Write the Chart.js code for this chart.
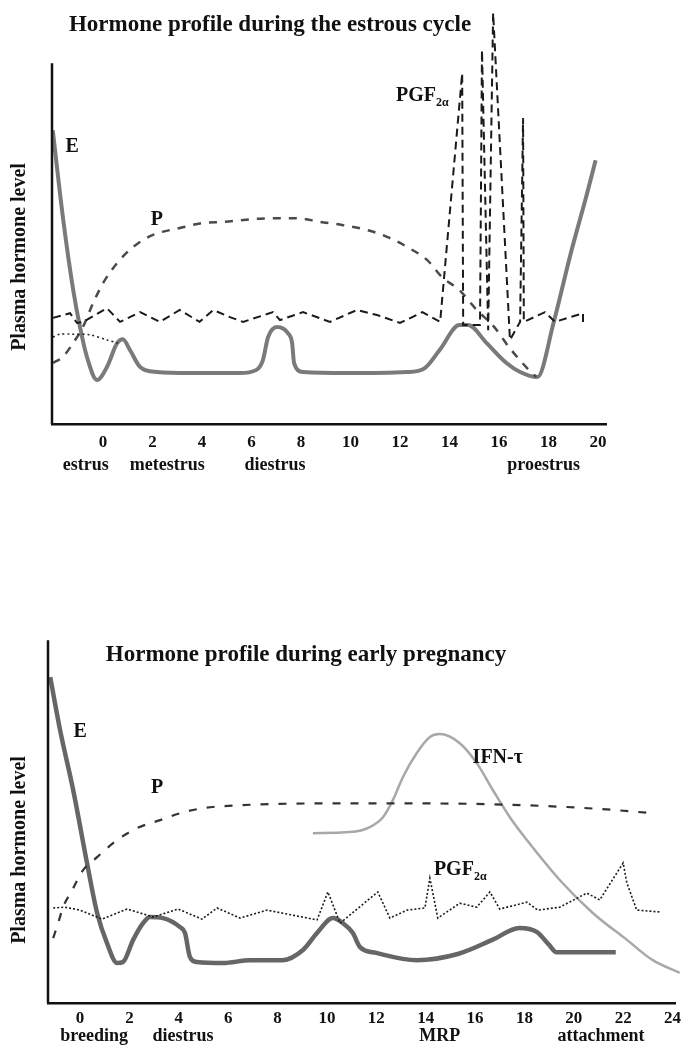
<!DOCTYPE html>
<html>
<head>
<meta charset="utf-8">
<script src="https://cdn.jsdelivr.net/npm/chart.js@4.4.1/dist/chart.umd.min.js"></script>
<style>
  html, body { margin: 0; padding: 0; background: #fff; }
  body { width: 683px; height: 1050px; position: relative; overflow: hidden; }
  canvas { position: absolute; left: 0; }
  #cycleChart { top: 0; }
  #pregChart { top: 560px; }
</style>
</head>
<body>
<canvas id="cycleChart" width="683" height="490"></canvas>
<canvas id="pregChart" width="683" height="490"></canvas>
<script>
// ---- estrous cycle panel ----
const cycleTicks = [0, 2, 4, 6, 8, 10, 12, 14, 16, 18, 20];
const cyclePhaseNames = ['estrus', 'metestrus', 'diestrus', 'proestrus'];
const cyclePhaseDays = [-0.7, 2.6, 6.95, 17.8];

const cycleEDays = [-2.03, -1.62, -1.2, -0.93, -0.65, -0.24, 0.16, 0.57, 0.8, 1.09, 1.5, 2.18, 3.5, 5.5, 6.2, 6.46, 6.67, 7.03, 7.47, 7.64, 7.72, 8.08, 9.86, 12.28, 13.0, 13.6, 14.4, 14.75, 15.5, 16.3, 16.85, 17.55, 18.2, 18.9, 19.56, 19.9];
const cycleELevel = [81.4, 57.3, 37, 26.9, 18.6, 12.2, 15.8, 22.4, 23.5, 20.5, 15.8, 14.4, 14.1, 14.1, 15, 17.7, 24.1, 26.9, 25.2, 22.4, 16.9, 14.4, 14.1, 14.4, 15.5, 20.5, 27.4, 27.4, 22.4, 16.9, 14.4, 13, 28, 47.4, 64, 73.1];

const cyclePDays = [-2.02, -1.62, -1.21, -0.81, -0.4, 0, 0.57, 1.21, 2.02, 3.1, 4.04, 4.85, 6.75, 7.84, 8.77, 9.7, 10.7, 11.5, 12.3, 13.1, 13.7, 14.4, 15.1, 15.8, 16.4, 17.2, 17.5];
const cyclePLevel = [16.9, 18.6, 22.4, 26.9, 33.5, 39, 44.6, 49, 52.4, 54.3, 55.7, 56, 57, 57, 56, 55.1, 53.7, 51.8, 49, 45.4, 40.7, 37.1, 31.6, 26.9, 21.3, 15, 13];

const cyclePgfDays = [-2.02, -1.33, -1.05, -0.8, 0.16, 0.69, 1.5, 2.3, 3.1, 3.9, 4.45, 5.13, 5.66, 6.87, 7.15, 8.08, 9.17, 10.26, 11.07, 12, 12.9, 13.62, 14.51, 14.55, 15.23, 15.31, 15.56, 15.76, 16.44, 16.85, 16.97, 17.0, 17.86, 18.26, 19.39, 19.39];
const cyclePgfLevel = [29.4, 30.7, 28, 28.3, 32.1, 28.3, 31, 28.3, 31.6, 28.3, 31.6, 29.6, 28.3, 31, 28.8, 31, 28.3, 31.6, 30.2, 28, 31, 28.3, 97.2, 27.4, 27.4, 103.6, 26, 113.9, 23.3, 28.3, 84.8, 28.3, 31, 28.3, 30.7, 27.2];

const cycleDotDays = [-2.02, -1.74, -1.33, -0.53, 0.16, 0.6];
const cycleDotLevel = [24.1, 24.9, 24.9, 24.7, 23.3, 22.4];

// ---- early pregnancy panel ----
const pregTicks = [0, 2, 4, 6, 8, 10, 12, 14, 16, 18, 20, 22, 24];
const pregPhaseNames = ['breeding', 'diestrus', 'MRP', 'attachment'];
const pregPhaseDays = [0.57, 4.17, 14.57, 21.1];

const pregEDays = [-1.21, -0.81, -0.28, 0.28, 0.69, 1.09, 1.5, 1.74, 2.15, 2.55, 2.83, 3.36, 4.05, 4.25, 4.45, 4.74, 5.79, 6.88, 8.2, 9.03, 9.6, 10.24, 10.65, 11.05, 11.34, 12.0, 13.64, 15.3, 16.7, 17.8, 18.5, 19.0, 19.3, 21.7];
const pregELevel = [89.8, 75.2, 58.7, 38.6, 24.8, 16.5, 11, 11.3, 17.4, 22, 23.7, 23.4, 20.9, 19.3, 12.7, 11.3, 11, 11.8, 11.8, 14.6, 19.3, 23.4, 22, 19.3, 15.4, 13.8, 11.8, 13.5, 17.4, 20.7, 19.6, 16, 14, 14];

const pregPDays = [-1.09, -0.89, -0.69, -0.32, 0.12, 0.69, 1.5, 2.31, 3.24, 4.05, 4.98, 6.48, 10, 14, 18, 21, 23.2];
const pregPLevel = [17.9, 22, 26.4, 31.1, 36.6, 40.2, 44.9, 48.2, 50.4, 52.3, 53.7, 54.5, 55, 55, 54.5, 53.5, 52.3];

const pregIfnDays = [9.43, 10.93, 11.74, 12.27, 12.67, 13.08, 13.64, 14.17, 14.57, 15.38, 16.07, 16.72, 17.41, 18.1, 19.43, 20.77, 22.15, 23.2, 24.29];
const pregIfnLevel = [46.8, 47.1, 48.5, 51.2, 55.9, 62.3, 68.9, 73.3, 74.1, 71.6, 66.1, 58.7, 51.2, 44.9, 33.9, 24.8, 17.4, 11.8, 8.3];

const pregPgfDays = [-1.09, -0.61, 0, 0.89, 1.9, 2.96, 3.97, 4.94, 5.55, 6.48, 7.57, 9.6, 10.04, 10.53, 12.06, 12.55, 13.24, 13.97, 14.17, 14.49, 15.38, 16.07, 16.6, 17.0, 18.1, 18.54, 19.43, 20.53, 21.05, 22.0, 22.15, 22.55, 23.48];
const pregPgfLevel = [26.2, 26.4, 25.6, 23.1, 25.9, 23.7, 25.9, 23.1, 26.2, 23.4, 25.6, 22.9, 30.6, 22, 30.6, 23.4, 25.6, 26.2, 34.4, 23.4, 27.5, 26.4, 30.6, 25.9, 27.8, 25.6, 26.4, 30.3, 28.4, 38.6, 33.1, 25.6, 25.1];

const SERIF = '"Liberation Serif", "Times New Roman", serif';
Chart.defaults.font.family = SERIF;
Chart.defaults.color = '#111';

function pts(xs, ys) {
  return xs.map((x, i) => ({ x, y: ys[i] }));
}

function drawLabel(ctx, text, sub, cx, cy) {
  ctx.font = 'bold 20px ' + SERIF;
  const w1 = ctx.measureText(text).width;
  let w2 = 0;
  if (sub) {
    ctx.font = 'bold 12px ' + SERIF;
    w2 = ctx.measureText(sub).width;
  }
  const start = cx - (w1 + w2) / 2;
  ctx.textAlign = 'left';
  ctx.textBaseline = 'middle';
  ctx.font = 'bold 20px ' + SERIF;
  ctx.fillText(text, start, cy);
  if (sub) {
    ctx.font = 'bold 12px ' + SERIF;
    ctx.fillText(sub, start + w1, cy + 7);
  }
}

const decor = {
  id: 'decor',
  afterDraw(chart, args, opts) {
    const { ctx, chartArea: a, scales: { x, y } } = chart;
    ctx.save();
    ctx.fillStyle = '#111';
    ctx.strokeStyle = '#111';

    // vertical axis line (shorter than the plot area)
    ctx.lineWidth = 2.5;
    ctx.beginPath();
    ctx.moveTo(a.left, a.bottom);
    ctx.lineTo(a.left, y.getPixelForValue(100));
    ctx.stroke();

    ctx.textAlign = 'center';
    ctx.textBaseline = 'middle';
    ctx.font = 'bold 23px ' + SERIF;
    ctx.fillText(opts.title, opts.titleX, opts.titleY);

    ctx.save();
    ctx.translate(20, opts.yTitleY);
    ctx.rotate(-Math.PI / 2);
    ctx.font = 'bold 20px ' + SERIF;
    ctx.fillText('Plasma hormone level', 0, 0);
    ctx.restore();

    ctx.font = 'bold 18px ' + SERIF;
    opts.phaseNames.forEach((name, i) => {
      ctx.fillText(name, x.getPixelForValue(opts.phaseDays[i]), a.bottom + opts.phaseGap);
    });

    opts.notes.forEach(n => {
      drawLabel(ctx, n.text, n.sub, x.getPixelForValue(n.x), y.getPixelForValue(n.y));
    });
    ctx.restore();
  }
};

function makeChart(id, cfg) {
  const ctx = document.getElementById(id).getContext('2d');
  return new Chart(ctx, {
    type: 'line',
    data: { datasets: cfg.datasets },
    options: {
      responsive: false,
      animation: false,
      events: [],
      layout: { padding: cfg.padding },
      elements: { point: { radius: 0 }, line: { fill: false } },
      scales: {
        x: {
          type: 'linear',
          min: cfg.xMin,
          max: cfg.xMax,
          grid: { display: false, drawTicks: false },
          border: { display: true, color: '#111', width: 2.5 },
          afterBuildTicks: s => { s.ticks = cfg.ticks.map(v => ({ value: v })); },
          afterFit: s => { s.height = cfg.axisHeight; s.paddingLeft = 0; s.paddingRight = 0; },
          ticks: {
            padding: cfg.tickPad,
            color: '#111',
            font: { size: 17, weight: 'bold' },
            callback: v => String(v)
          }
        },
        y: { display: false, min: 0, max: cfg.yMax }
      },
      plugins: {
        legend: { display: false },
        tooltip: { enabled: false },
        decor: cfg.decor
      }
    },
    plugins: [decor]
  });
}

makeChart('cycleChart', {
  xMin: -2.06, xMax: 20.32, yMax: 115,
  padding: { left: 52, right: 77, top: 9, bottom: 0 },
  axisHeight: 66, tickPad: 8,
  ticks: cycleTicks,
  datasets: [
    { data: pts(cycleDotDays, cycleDotLevel), borderColor: '#222', borderWidth: 1.5, borderDash: [2, 3], tension: 0.3, clip: false },
    { data: pts(cyclePgfDays, cyclePgfLevel), borderColor: '#1a1a1a', borderWidth: 2, borderDash: [8, 5], tension: 0, clip: false },
    { data: pts(cyclePDays, cyclePLevel), borderColor: '#4a4a4a', borderWidth: 2.5, borderDash: [8, 8], cubicInterpolationMode: 'monotone', clip: false },
    { data: pts(cycleEDays, cycleELevel), borderColor: '#7a7a7a', borderWidth: 4, cubicInterpolationMode: 'monotone', clip: false }
  ],
  decor: {
    title: 'Hormone profile during the estrous cycle', titleX: 270, titleY: 25,
    yTitleY: 257, phaseGap: 41,
    phaseNames: cyclePhaseNames, phaseDays: cyclePhaseDays,
    notes: [
      { text: 'E', x: -1.25, y: 76.7 },
      { text: 'P', x: 2.18, y: 56.5 },
      { text: 'PGF', sub: '2\u03b1', x: 12.9, y: 91 }
    ]
  }
});

makeChart('pregChart', {
  xMin: -1.3, xMax: 24.1, yMax: 105,
  padding: { left: 48, right: 8, top: 62, bottom: 0 },
  axisHeight: 47, tickPad: 5,
  ticks: pregTicks,
  datasets: [
    { data: pts(pregPgfDays, pregPgfLevel), borderColor: '#1a1a1a', borderWidth: 1.6, borderDash: [2, 2], tension: 0, clip: false },
    { data: pts(pregPDays, pregPLevel), borderColor: '#333', borderWidth: 2.2, borderDash: [8, 10], cubicInterpolationMode: 'monotone', clip: false },
    { data: pts(pregIfnDays, pregIfnLevel), borderColor: '#a8a8a8', borderWidth: 2.5, cubicInterpolationMode: 'monotone', clip: false },
    { data: pts(pregEDays, pregELevel), borderColor: '#666', borderWidth: 4.5, cubicInterpolationMode: 'monotone', clip: false }
  ],
  decor: {
    title: 'Hormone profile during early pregnancy', titleX: 306, titleY: 95,
    yTitleY: 290, phaseGap: 33,
    phaseNames: pregPhaseNames, phaseDays: pregPhaseDays,
    notes: [
      { text: 'E', x: 0, y: 74.7 },
      { text: 'P', x: 3.12, y: 59.2 },
      { text: 'IFN-\u03c4', x: 16.92, y: 67.5 },
      { text: 'PGF', sub: '2\u03b1', x: 15.4, y: 36.6 }
    ]
  }
});
</script>
</body>
</html>
